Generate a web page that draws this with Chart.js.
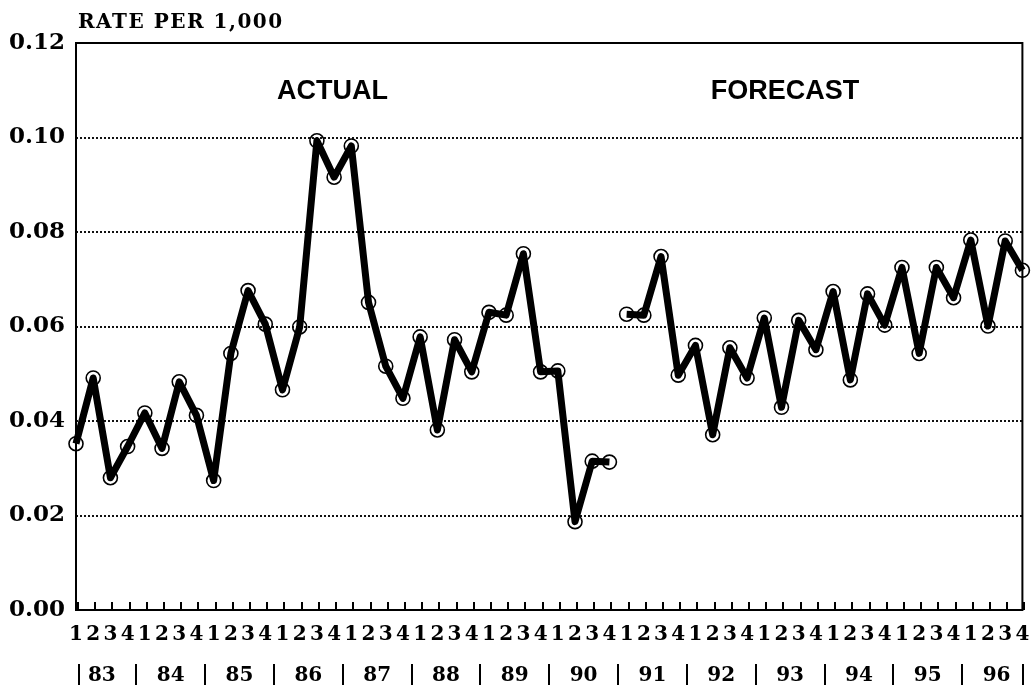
<!DOCTYPE html>
<html>
<head>
<meta charset="utf-8">
<script src="https://cdn.jsdelivr.net/npm/chart.js@4"></script>
<style>
  body { margin: 0; background: #fff; }
  #wrap { width: 1031px; height: 686px; }
</style>
</head>
<body>
<div id="wrap"><canvas id="rateChart" width="1031" height="686"></canvas></div>
<script>
// quarterly rate per 1,000, 1983 Q1 - 1990 Q4 actual, 1991 Q1 - 1996 Q4 forecast
const years = ['83', '84', '85', '86', '87', '88', '89', '90', '91', '92', '93', '94', '95', '96'];
const quarters = ['1', '2', '3', '4'];
const yTicks = [0, 0.02, 0.04, 0.06, 0.08, 0.10, 0.12];

const actual = [
  0.0352, 0.0491, 0.0280, 0.0346,
  0.0417, 0.0342, 0.0483, 0.0412,
  0.0274, 0.0543, 0.0676, 0.0605,
  0.0466, 0.0599, 0.0993, 0.0916,
  0.0982, 0.0651, 0.0516, 0.0448,
  0.0578, 0.0381, 0.0572, 0.0504,
  0.0630, 0.0624, 0.0754, 0.0504,
  0.0506, 0.0187, 0.0315, 0.0313
];
const forecast = [
  0.0626, 0.0624, 0.0748, 0.0497,
  0.0560, 0.0371, 0.0555, 0.0491,
  0.0618, 0.0429, 0.0613, 0.0551,
  0.0674, 0.0487, 0.0669, 0.0603,
  0.0725, 0.0543, 0.0725, 0.0661,
  0.0783, 0.0601, 0.0781, 0.0719
];

const labels = years.flatMap(() => quarters);
const actualData = actual.concat(forecast.map(() => null));
const forecastData = actual.map(() => null).concat(forecast);

const serif = '"DejaVu Serif", serif';
const sans = '"Liberation Sans", Arial, sans-serif';

// frame, inward tick marks, title, section labels and the year row
const extras = {
  id: 'extras',
  beforeDatasetsDraw(chart) {
    const { ctx, chartArea: a, scales: { x } } = chart;
    ctx.save();
    ctx.strokeStyle = '#000';
    ctx.lineWidth = 2;
    ctx.strokeRect(a.left, a.top, a.right - a.left, a.bottom - a.top);
    labels.forEach((_, i) => {
      const px = Math.round(x.getPixelForValue(i)) + 2;
      ctx.beginPath();
      ctx.moveTo(px, a.bottom);
      ctx.lineTo(px, a.bottom - 8);
      ctx.stroke();
    });
    ctx.restore();
  },
  afterDraw(chart) {
    const { ctx, chartArea: a, scales: { x, y } } = chart;
    ctx.save();
    ctx.fillStyle = '#000';

    ctx.font = 'bold 20px ' + serif;
    ctx.textAlign = 'left';
    ctx.textBaseline = 'alphabetic';
    ctx.letterSpacing = '1.5px';
    ctx.fillText('RATE PER 1,000', a.left + 2, 28);
    ctx.letterSpacing = '0px';

    ctx.font = 'bold 27px ' + sans;
    ctx.textAlign = 'center';
    ctx.textBaseline = 'middle';
    ctx.fillText('ACTUAL', x.getPixelForValue(14.9), y.getPixelForValue(0.1098));
    ctx.fillText('FORECAST', x.getPixelForValue(41.2), y.getPixelForValue(0.1098));

    // year row
    ctx.font = 'bold 20px ' + serif;
    years.forEach((yr, k) => {
      ctx.fillText(yr, x.getPixelForValue(k * 4 + 1.5), 676);
    });
    ctx.lineWidth = 2;
    ctx.strokeStyle = '#000';
    const bars = years.map((_, k) => k === 0 ? x.getPixelForValue(0) + 3 : x.getPixelForValue(k * 4 - 0.5));
    bars.push(a.right + 1);
    bars.forEach(px => {
      ctx.beginPath();
      ctx.moveTo(Math.round(px), 664);
      ctx.lineTo(Math.round(px), 685);
      ctx.stroke();
    });
    ctx.restore();
  }
};

const lineStyle = {
  borderColor: '#000',
  borderWidth: 7,
  borderJoinStyle: 'round',
  tension: 0,
  spanGaps: false,
  clip: false,
  pointRadius: 7,
  pointBorderWidth: 1.6,
  pointBorderColor: '#000',
  pointBackgroundColor: 'rgba(0,0,0,0)',
  pointHoverRadius: 7
};

new Chart(document.getElementById('rateChart'), {
  type: 'line',
  data: {
    labels,
    datasets: [
      { label: 'Actual', data: actualData, ...lineStyle },
      { label: 'Forecast', data: forecastData, ...lineStyle }
    ]
  },
  options: {
    responsive: false,
    animation: false,
    layout: { padding: { top: 43, right: 6, bottom: 26, left: 0 } },
    plugins: { legend: { display: false }, tooltip: { enabled: false } },
    scales: {
      x: {
        type: 'category',
        offset: false,
        grid: { display: false, drawTicks: false },
        border: { display: false },
        ticks: {
          autoSkip: false,
          maxRotation: 0,
          padding: 13,
          color: '#000',
          font: { family: serif, weight: 'bold', size: 20 }
        },
        afterFit(s) { s.paddingLeft = 0; s.paddingRight = 0; }
      },
      y: {
        min: 0,
        max: 0.12,
        afterBuildTicks(s) { s.ticks = yTicks.map(v => ({ value: v })); },
        grid: {
          drawTicks: false,
          lineWidth: 2,
          color: c => (c.tick && (c.tick.value === 0 || c.tick.value === 0.12)) ? 'rgba(0,0,0,0)' : '#111'
        },
        border: { display: false, dash: [2, 2] },
        ticks: {
          padding: 11,
          color: '#000',
          font: { family: serif, weight: 'bold', size: 23 },
          callback: v => Number(v).toFixed(2)
        },
        afterFit(s) { s.width = 76; s.paddingTop = 0; s.paddingBottom = 0; }
      }
    }
  },
  plugins: [extras]
});
</script>
</body>
</html>
